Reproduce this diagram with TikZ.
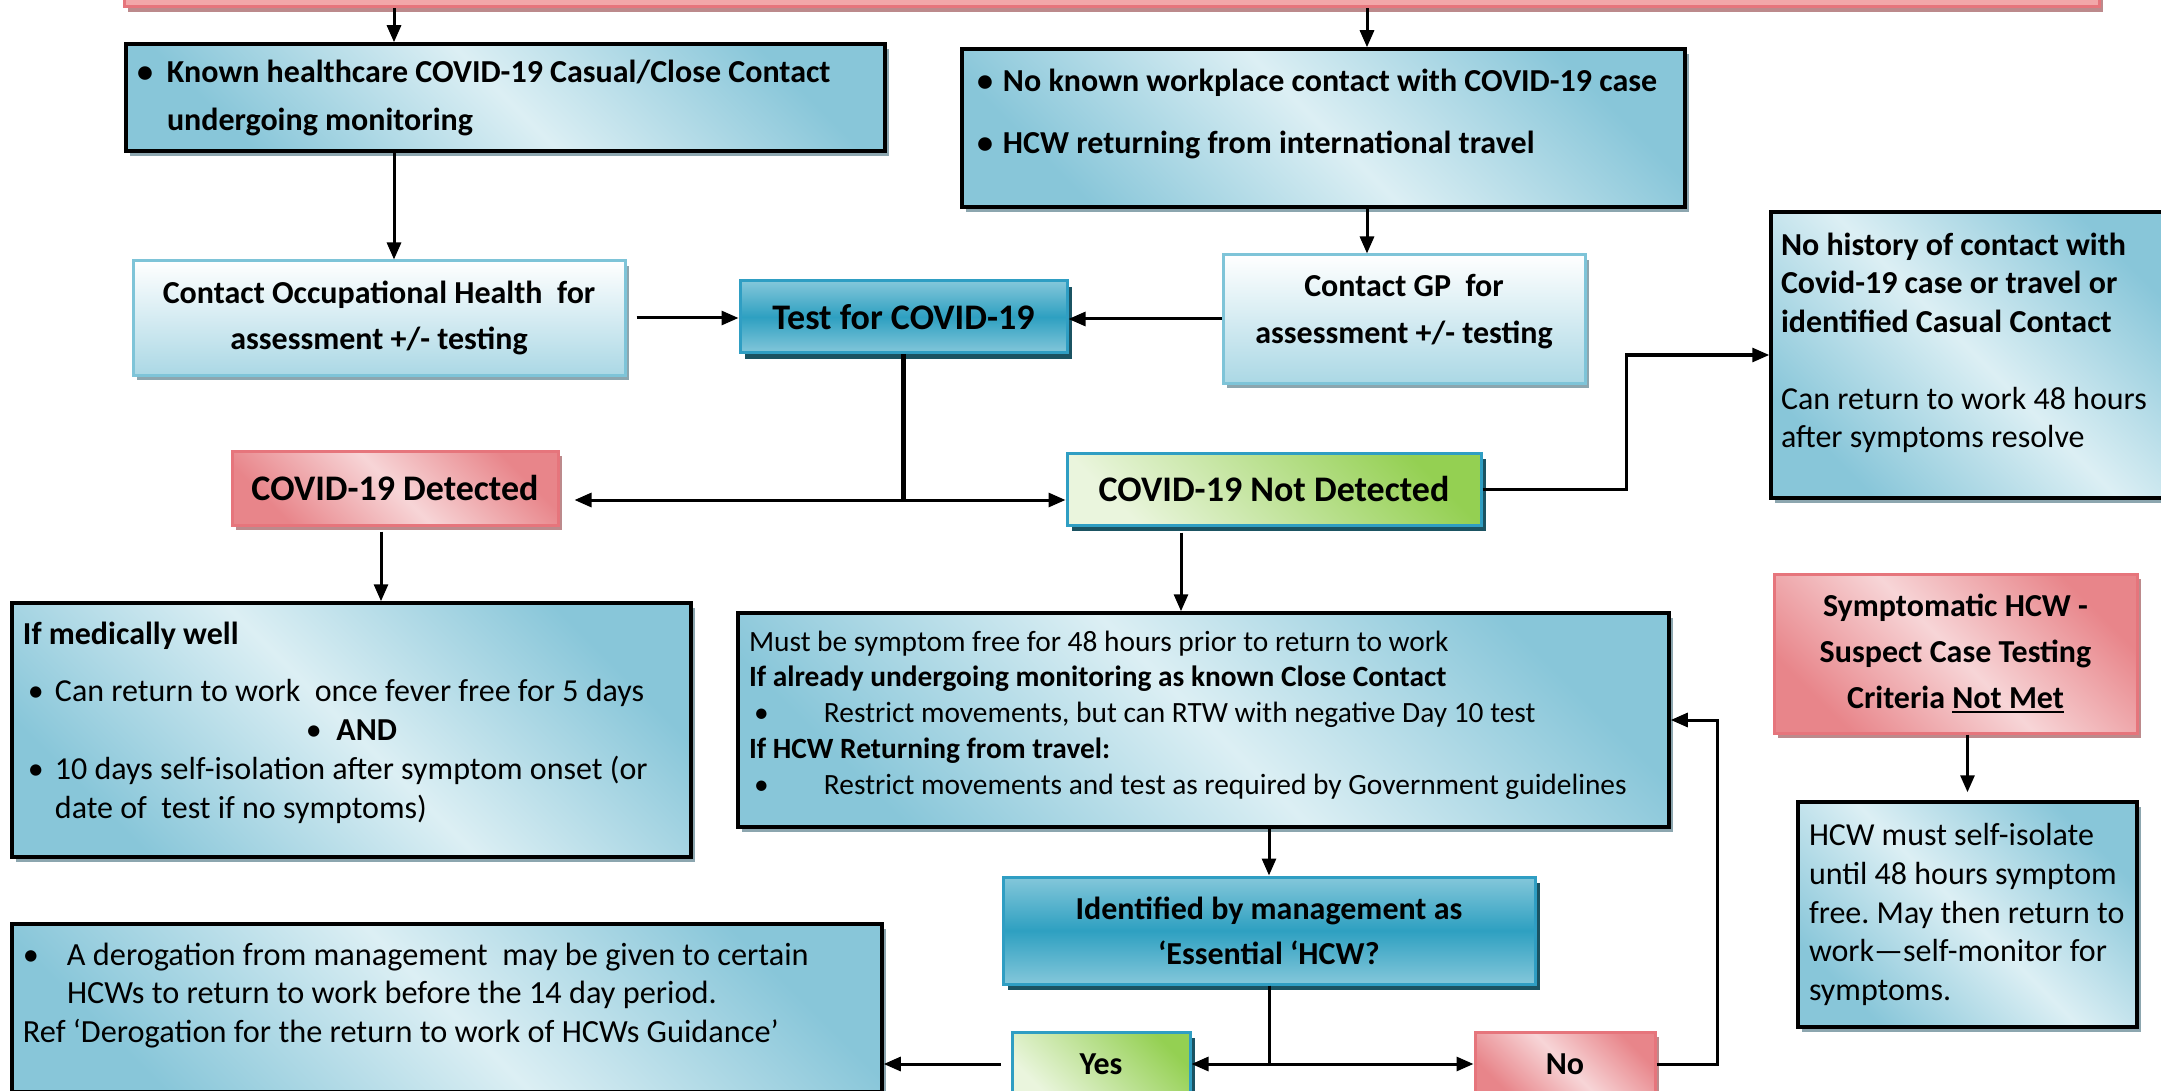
\documentclass[tikz,border=0pt]{standalone}
\usepackage{fontspec}
\setmainfont{Carlito}
\usetikzlibrary{arrows.meta,shadows}
\frenchspacing

\definecolor{bluedark}{HTML}{88C6D9}
\definecolor{bluelight}{HTML}{DCEFF4}
\definecolor{blueshadow}{HTML}{8CA6AF}
\definecolor{paleborder}{HTML}{7EC4D8}
\definecolor{palebottom}{HTML}{ABD8E5}
\definecolor{tealtop}{HTML}{84C7DA}
\definecolor{tealmid}{HTML}{2EA0C1}
\definecolor{tealborder}{HTML}{2F9EC3}
\definecolor{tealshadow}{HTML}{1B5362}
\definecolor{greenlight}{HTML}{EAF5DD}
\definecolor{greendark}{HTML}{94D052}
\definecolor{pinkdark}{HTML}{E8858A}
\definecolor{pinklight}{HTML}{F7D5D7}
\definecolor{pinkborder}{HTML}{E6757C}
\definecolor{pinkshadow}{HTML}{BC8A8C}
\definecolor{pinkfill}{HTML}{F2A7A9}

\newcommand\natsp{\spaceskip=0pt\xspaceskip=0pt\relax}
\newcommand\bul[1]{\makebox[#1][l]{\textbullet}}
\newcommand\botpad[1]{\par\vspace{#1}\nointerlineskip\null}
\newcommand\deepstrut[1]{\rule[-#1]{0pt}{#1}}
\newcommand\ulin[1]{\setbox0\hbox{#1}\rlap{\rule[-5pt]{\wd0}{2.5pt}}\box0}

\tikzset{
  conn/.style={line width=3pt},
  arr/.style={conn,-{Triangle[length=17pt,width=14pt]}},
  bluebox/.style={draw=black, line width=3.5pt, left color=bluedark, right color=bluedark,
    middle color=bluelight, shading angle=135, inner xsep=11pt,
    drop shadow={shadow xshift=4pt,shadow yshift=-5pt,fill=blueshadow,opacity=1}},
  palebox/.style={draw=paleborder, line width=3pt, top color=white, bottom color=palebottom,
    inner xsep=11pt, drop shadow={shadow xshift=4pt,shadow yshift=-5pt,fill=blueshadow,opacity=1}},
  tealbox/.style={draw=tealborder, line width=3pt, top color=tealtop, bottom color=tealtop,
    middle color=tealmid, inner xsep=11pt,
    drop shadow={shadow xshift=5pt,shadow yshift=-6pt,fill=tealshadow,opacity=1}},
  greenbox/.style={draw=tealborder, line width=3pt, left color=greenlight, right color=greendark,
    shading angle=135, drop shadow={shadow xshift=5pt,shadow yshift=-6pt,fill=tealshadow,opacity=1}},
  pinkbox/.style={draw=pinkborder, line width=3pt, left color=pinkdark, right color=pinkdark,
    middle color=pinklight, shading angle=135, inner xsep=11pt,
    drop shadow={shadow xshift=4pt,shadow yshift=-5pt,fill=pinkshadow,opacity=1}},
  pinkbar/.style={draw=pinkborder, line width=3pt, fill=pinkfill,
    drop shadow={shadow xshift=4pt,shadow yshift=-5pt,fill=pinkshadow,opacity=1}}
}

\begin{document}
\begin{tikzpicture}[x=1pt,y=1pt,yscale=-1,xscale=1]
\useasboundingbox (0,0) rectangle (2161,1091);

%Columns and bends of the connectors
\coordinate (colA) at (394,0);
\coordinate (colB) at (1367,0);
\coordinate (colD) at (381,0);
\coordinate (colE) at (1181,0);
\coordinate (split) at (903.5,500);
\coordinate (nhbend) at (1626,0);
\coordinate (nobend) at (1717,0);

%Shape: top banner
\node[pinkbar, minimum width=1975pt, minimum height=60pt] (topbar) at (1111.5,-23) {};

%Shape: known contact
\node[bluebox, minimum width=759pt, minimum height=107pt, text width=737pt, align=left,
  font=\fontsize{32}{48}\selectfont\bfseries] (known) at (505.5,97.5)
  {\natsp\bul{30pt}Known healthcare COVID-19 Casual/Close Contact\\\hspace*{30pt}undergoing monitoring};

%Shape: no known contact
\node[bluebox, inner xsep=15pt, minimum width=723pt, minimum height=158pt, text width=693pt, align=left,
  font=\fontsize{32}{62}\selectfont\bfseries] (noknown) at (1323.5,128)
  {\natsp\bul{26pt}No known workplace contact with COVID-19 case\\\bul{26pt}HCW returning from international travel\botpad{29pt}};

%Shape: occupational health
\node[palebox, minimum width=492pt, minimum height=114pt, align=center,
  font=\fontsize{32}{46}\selectfont\bfseries] (occhealth) at (379,318)
  {Contact Occupational Health\ \ for\\assessment +/- testing};

%Shape: test
\node[tealbox, minimum width=327pt, minimum height=72pt,
  font=\fontsize{36}{42}\selectfont\bfseries] (test) at (903.5,317) {Test for COVID-19};

%Shape: GP
\node[palebox, minimum width=362pt, minimum height=128pt, align=center,
  font=\fontsize{32}{47}\selectfont\bfseries] (gp) at (1404,319)
  {Contact GP\ \ for\\assessment +/- testing\deepstrut{21pt}};

%Shape: no history
\node[bluebox, inner xsep=10pt, minimum width=409pt, minimum height=286pt, text width=389pt, align=left,
  font=\fontsize{32}{38.5}\selectfont] (nohist) at (1975.5,355)
  {\natsp\textbf{No history of contact with\\Covid-19 case or travel or\\identified Casual Contact}\\[38.5pt]
   Can return to work 48 hours\\after symptoms resolve\botpad{24pt}};

%Shape: detected
\node[pinkbox, minimum width=326pt, minimum height=74pt,
  font=\fontsize{36}{42}\selectfont\bfseries] (detected) at (395,488) {COVID-19 Detected};

%Shape: not detected
\node[greenbox, minimum width=414pt, minimum height=72pt,
  font=\fontsize{36}{42}\selectfont\bfseries] (notdet) at (1274,489) {COVID-19 Not Detected};

%Shape: medically well
\node[bluebox, minimum width=679pt, minimum height=254pt, text width=657pt, align=left,
  font=\fontsize{32}{39}\selectfont] (medwell) at (351.5,730)
  {\natsp\textbf{If medically well}\\[18pt]
   \hspace*{5pt}\bul{27pt}Can return to work\ \ once fever free for 5 days\\
   \mbox{}\hfill\textbullet\ \ \textbf{AND}\hfill\mbox{}\\
   \hspace*{5pt}\bul{27pt}10 days self-isolation after symptom onset (or\\
   \hspace*{32pt}date of\ \ test if no symptoms)\botpad{15pt}};

%Shape: symptom free
\node[bluebox, minimum width=931pt, minimum height=214pt, text width=909pt, align=left,
  font=\fontsize{29.4}{35.75}\selectfont] (mustfree) at (1203.5,720)
  {\natsp Must be symptom free for 48 hours prior to return to work\\
   \textbf{If already undergoing monitoring as known Close Contact}\\
   \hspace*{5pt}\bul{70pt}Restrict movements, but can RTW with negative Day 10 test\\
   \textbf{If HCW Returning from travel:}\\
   \hspace*{5pt}\bul{70pt}Restrict movements and test as required by Government guidelines\botpad{10pt}};

%Shape: symptomatic
\node[pinkbox, minimum width=363pt, minimum height=159pt, align=center,
  font=\fontsize{32}{46}\selectfont\bfseries] (sympt) at (1955.5,653.5)
  {Symptomatic HCW -\\Suspect Case Testing\\Criteria \ulin{Not Met}};

%Shape: self-isolate
\node[bluebox, minimum width=339pt, minimum height=225pt, text width=317pt, align=left,
  font=\fontsize{32}{38.75}\selectfont] (selfiso) at (1967.5,914.5)
  {\natsp\mbox{HCW must self-isolate}\\\mbox{until 48 hours symptom}\\\mbox{free. May then return to}\\\mbox{work—self-monitor for}\\symptoms.};

%Shape: essential
\node[tealbox, minimum width=532pt, minimum height=107pt, align=center,
  font=\fontsize{32}{45}\selectfont\bfseries] (essential) at (1269,930.5)
  {Identified by management as\\‘Essential ‘HCW?};

%Shape: yes / no
\node[greenbox, minimum width=178pt, minimum height=64pt,
  font=\fontsize{32}{38}\selectfont\bfseries] (yes) at (1101,1064) {Yes};
\node[pinkbox, minimum width=180pt, minimum height=64pt,
  font=\fontsize{32}{38}\selectfont\bfseries] (no) at (1565,1064) {No};

%Shape: derogation
\node[bluebox, minimum width=870pt, minimum height=168pt, text width=848pt, align=left,
  font=\fontsize{32.3}{38.5}\selectfont] (derog) at (447,1008)
  {\natsp\bul{44pt}A derogation from management\ \ may be given to certain\\
   \hspace*{44pt}HCWs to return to work before the 14 day period.\\
   Ref ‘Derogation for the return to work of HCWs Guidance’\botpad{25pt}};

%Connectors
\draw[arr] (topbar.south -| colA) -- (known.north -| colA);
\draw[arr] (topbar.south -| colB) -- (noknown.north -| colB);
\draw[arr] (known.south -| colA) -- (occhealth.north -| colA);
\draw[arr] (noknown.south -| colB) -- (gp.north -| colB);
\draw[arr, shorten <=10pt] (occhealth.east) -- (occhealth.east -| test.west);
\draw[arr] (gp.west) -- (gp.west -| test.east);
\draw[conn, line width=4.5pt] (test.south) -- (split);
\draw[arr, shorten >=15pt] (split) -- (split -| detected.east);
\draw[arr] (split) -- (split -| notdet.west);
\draw[arr, shorten <=5pt] (detected.south -| colD) -- (medwell.north -| colD);
\draw[arr, shorten <=6pt] (notdet.south -| colE) -- (mustfree.north -| colE);
\draw[arr] (notdet.east) -- (notdet.east -| nhbend) |- (nohist.west);
\draw[arr, shorten >=8pt] (sympt.south -| selfiso.north) -- (selfiso.north);
\draw[arr] (mustfree.south -| essential.north) -- (essential.north);
\draw[arr] (essential.south) |- (yes.east);
\draw[arr] (essential.south) |- (no.west);
\draw[arr] (no.east) -- (no.east -| nobend) |- (mustfree.east);
\draw[arr, shorten <=10pt] (yes.west) -- (yes.west -| derog.east);

\end{tikzpicture}
\end{document}
